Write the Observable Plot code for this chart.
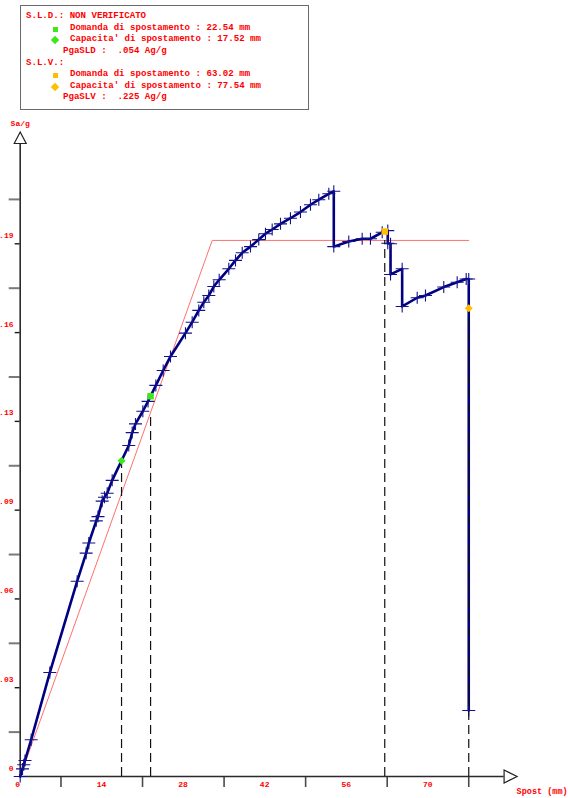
<!DOCTYPE html>
<html>
<head>
<meta charset="utf-8">
<script src="https://cdn.jsdelivr.net/npm/d3@7"></script>
<script src="https://cdn.jsdelivr.net/npm/@observablehq/plot@0.6"></script>
<style>
  html, body { margin: 0; padding: 0; background: #fff; }
  #legend { position: relative; width: 568px; height: 112px; }
  #legend .box { position: absolute; left: 20px; top: 5px; width: 289px; height: 105px; box-sizing: border-box; border: 1.5px solid #6a6a6a; }
  #legend .row { position: absolute; margin: 0; font: bold 9.1px "Liberation Mono", "DejaVu Sans Mono", monospace; line-height: 10px; color: #ff0000; white-space: pre; }
  #legend .mk { position: absolute; }
  #chart svg { display: block; }
</style>
</head>
<body>
<div id="legend"><div class="box"></div></div>
<div id="chart"></div>
<script>
// Pushover (capacity) curve: control displacement in mm, spectral acceleration in g
const dispMM = [0, 0.40, 0.62, 0.83, 1.90, 5.12, 9.85, 11.40, 11.86, 13.15,
  13.45, 14.17, 14.57, 15.04, 15.90, 18.77, 19.36, 19.93, 21.2, 22.1,
  23.45, 24.72, 25.98, 28.57, 29.73, 30.87, 31.74, 32.60, 33.47, 34.4,
  36.06, 37.22, 38.38, 39.81, 41.24, 42.40, 43.56, 45.00, 46.72, 48.45,
  50.18, 51.62, 53.35, 54.21, 54.21, 56.80, 59.12, 60.55, 62.58, 63.54,
  63.54, 64.02, 64.02, 66.03, 66.03, 68.63, 70.06, 73.22, 75.54, 77.10,
  77.54, 77.54];
const saG = [0, 0.0027, 0.0042, 0.0057, 0.0131, 0.0370, 0.0695, 0.0795, 0.0831, 0.0910,
  0.0925, 0.0980, 0.0994, 0.1008, 0.1054, 0.1178, 0.1224, 0.1255, 0.1300, 0.1335,
  0.1392, 0.1445, 0.1495, 0.1578, 0.1617, 0.1659, 0.1688, 0.1712, 0.1744, 0.1768,
  0.1807, 0.1837, 0.1864, 0.1886, 0.1911, 0.1932, 0.1947, 0.1967, 0.1987, 0.2009,
  0.2035, 0.2053, 0.2074, 0.2083, 0.1886, 0.1904, 0.1914, 0.1914, 0.1937, 0.1943,
  0.1898, 0.1896, 0.1787, 0.1807, 0.1673, 0.1704, 0.1712, 0.1742, 0.1759, 0.1771,
  0.1771, 0.0235];

// Equivalent bilinear system
const bilinMM = [0, 33.19, 77.54];
const bilinSa = [0, 0.1908, 0.1908];

// Limit state checks
const stateNames = ["S.L.D.", "S.L.V."];
const stateVerdict = [": NON VERIFICATO", ":"];
const demandMM = [22.54, 63.02];
const capacityMM = [17.52, 77.54];
const pgaLabels = ["PgaSLD", "PgaSLV"];
const pgaValues = [".054", ".225"];
const stateColors = ["#3fe61c", "#ffbf00"];

// Axis ticks and labels
const xLabelValues = [0, 14.098, 28.196, 42.294, 56.392, 70.49];
const xTickLabels = ["0", "14", "28", "42", "56", "70"];
const xTickMarks = [7.049, 21.147, 35.245, 49.343, 63.441, 77.539];
const yLabelValues = [0, 0.0316, 0.0632, 0.0948, 0.1264, 0.158, 0.1896];
const yTickLabels = ["0", ".03", ".06", ".09", ".13", ".16", ".19"];
const yTickMarks = [0.0158, 0.0474, 0.079, 0.1106, 0.1422, 0.1738, 0.2054];
const xAxisEnd = 83.65;
const yAxisEnd = 0.2253;
const xTitle = "Spost (mm)";
const yTitle = "Sa/g";

const RED = "#ff0000";
const NAVY = "#000080";

const curve = dispMM.map((x, i) => ({x, y: saG[i]}));
const bilinear = bilinMM.map((x, i) => ({x, y: bilinSa[i]}));

// linear interpolation along a polyline (first crossing in x)
function along(pts, x) {
  for (let i = 1; i < pts.length; i++) {
    const a = pts[i - 1], b = pts[i];
    if (x >= a.x && x <= b.x && b.x > a.x) return a.y + (b.y - a.y) * (x - a.x) / (b.x - a.x);
  }
  return pts[pts.length - 1].y;
}
const peakSa = d3.max(saG);
// capacity points: SLD on the curve, SLV at 20% strength decay
const capacitySa = [along(curve, capacityMM[0]), 0.8 * peakSa];
const demandSa = demandMM.map(x => along(curve, x));

const guides = [
  {x: capacityMM[0], top: capacitySa[0]},
  {x: demandMM[0], top: along(bilinear, demandMM[0])},
  {x: demandMM[1], top: along(bilinear, demandMM[1])},
  {x: capacityMM[1], top: capacitySa[1]}
];
const demandPts = demandMM.map((x, i) => ({x, y: demandSa[i], c: stateColors[i]}));
const capacityPts = capacityMM.map((x, i) => ({x, y: capacitySa[i], c: stateColors[i]}));

// marker shapes
const cross = {draw(ctx) { ctx.moveTo(-6.5, 0); ctx.lineTo(6.5, 0); ctx.moveTo(0, -6); ctx.lineTo(0, 6); }};
const square = s => ({draw(ctx) { const h = s / 2; ctx.moveTo(-h, -h); ctx.lineTo(h, -h); ctx.lineTo(h, h); ctx.lineTo(-h, h); ctx.closePath(); }});
const diamond = r => ({draw(ctx) { ctx.moveTo(0, -r); ctx.lineTo(r, 0); ctx.lineTo(0, r); ctx.lineTo(-r, 0); ctx.closePath(); }});
const arrowRight = {draw(ctx) { ctx.moveTo(0, -6.5); ctx.lineTo(13, 0); ctx.lineTo(0, 6.5); ctx.closePath(); }};
const arrowUp = {draw(ctx) { ctx.moveTo(-6, 0); ctx.lineTo(0, -11.5); ctx.lineTo(6, 0); ctx.closePath(); }};

const xFmt = new Map(xLabelValues.map((v, i) => [v, xTickLabels[i]]));
const yFmt = new Map(yLabelValues.map((v, i) => [v, yTickLabels[i]]));

const chart = Plot.plot({
  width: 568,
  height: 686,
  marginLeft: 19.7,
  marginRight: 56.6,
  marginTop: 17.8,
  marginBottom: 22,
  style: {fontFamily: '"Liberation Mono", "DejaVu Sans Mono", monospace', fontSize: "8px", background: "#fff"},
  x: {domain: [0, 85]},
  y: {domain: [0, 0.23]},
  marks: [
    // axis ticks
    Plot.axisX(xTickMarks, {tickSize: 11, stroke: "#4a4a4a", strokeWidth: 1.6, fill: "none", label: null}),
    Plot.axisX(xLabelValues, {tickSize: 0, tickPadding: 5, fill: RED, fontWeight: "bold", textAnchor: "start", dx: -5, tickFormat: d => xFmt.get(d), label: null}),
    Plot.axisY(yTickMarks, {tickSize: 11, stroke: "#7a7a7a", strokeWidth: 2, fill: "none", label: null}),
    Plot.axisY(yLabelValues.slice(1), {tickSize: 5, stroke: "#1a1a1a", strokeWidth: 1.4, fill: "none", label: null}),
    Plot.axisY(yLabelValues, {tickSize: 0, tickPadding: 6.7, dy: -8.5, fill: RED, fontWeight: "bold", tickFormat: d => yFmt.get(d), label: null}),
    // axis lines
    Plot.ruleY([0], {x1: 0, x2: xAxisEnd, stroke: "#2a2a2a", strokeWidth: 1.6}),
    Plot.ruleX([0], {y1: 0, y2: yAxisEnd, stroke: "#2a2a2a", strokeWidth: 1.6}),
    // bilinear
    Plot.line(bilinear, {x: "x", y: "y", stroke: "#ff7070", strokeWidth: 1}),
    // capacity curve with step markers
    Plot.line(curve, {x: "x", y: "y", stroke: NAVY, strokeWidth: 2.6, strokeLinejoin: "round"}),
    Plot.dot(curve, {x: "x", y: "y", symbol: cross, stroke: "#12128c", strokeWidth: 1.1, fill: "none"}),
    // demand / capacity guides
    Plot.ruleX(guides, {x: "x", y1: 0, y2: "top", stroke: "#111", strokeWidth: 1.2, strokeDasharray: "9,5"}),
    Plot.dot(demandPts, {x: "x", y: "y", symbol: square(6.5), fill: "c", stroke: "none"}),
    Plot.dot(capacityPts, {x: "x", y: "y", symbol: diamond(4), fill: "c", stroke: "none"}),
    // axis arrows and titles
    Plot.dot([{x: xAxisEnd, y: 0}], {x: "x", y: "y", symbol: arrowRight, fill: "#fff", stroke: "#222", strokeWidth: 1.2}),
    Plot.dot([{x: 0, y: yAxisEnd}], {x: "x", y: "y", symbol: arrowUp, fill: "#fff", stroke: "#222", strokeWidth: 1.2}),
    Plot.text([yTitle], {x: 0, y: yAxisEnd, dy: -19.7, text: d => d, fill: RED, fontWeight: "bold", fontSize: 8}),
    Plot.text([xTitle], {x: xAxisEnd, y: 0, dx: 12.5, dy: 15, text: d => d, textAnchor: "start", fill: RED, fontWeight: "bold", fontSize: 8.5})
  ]
});
document.getElementById("chart").appendChild(chart);

// legend box above the chart
const legend = document.getElementById("legend");
const rows = [];
stateNames.forEach((name, i) => {
  rows.push({x: 26, text: name + stateVerdict[i]});
  rows.push({x: 70, text: `Domanda di spostamento : ${demandMM[i].toFixed(2)} mm`, mark: "square", c: stateColors[i]});
  rows.push({x: 70, text: `Capacita' di spostamento : ${capacityMM[i].toFixed(2)} mm`, mark: "diamond", c: stateColors[i]});
  rows.push({x: 63, text: `${pgaLabels[i]} :  ${pgaValues[i]} Ag/g`});
});
rows.forEach((r, k) => {
  const cy = 15.7 + k * 11.6;
  const el = document.createElement("div");
  el.className = "row";
  el.textContent = r.text;
  el.style.left = r.x + "px";
  el.style.top = (cy - 4.6) + "px";
  legend.appendChild(el);
  if (r.mark) {
    const m = document.createElement("div");
    m.className = "mk";
    m.style.background = r.c;
    if (r.mark === "square") {
      m.style.width = "5.5px"; m.style.height = "5px";
      m.style.left = (55.5 - 2.75) + "px"; m.style.top = (cy + 2 - 2.5) + "px";
    } else {
      m.style.width = "6px"; m.style.height = "6px";
      m.style.left = (55 - 3) + "px"; m.style.top = (cy + 1.5 - 3) + "px";
      m.style.transform = "rotate(45deg)";
    }
    legend.appendChild(m);
  }
});
</script>
</body>
</html>
